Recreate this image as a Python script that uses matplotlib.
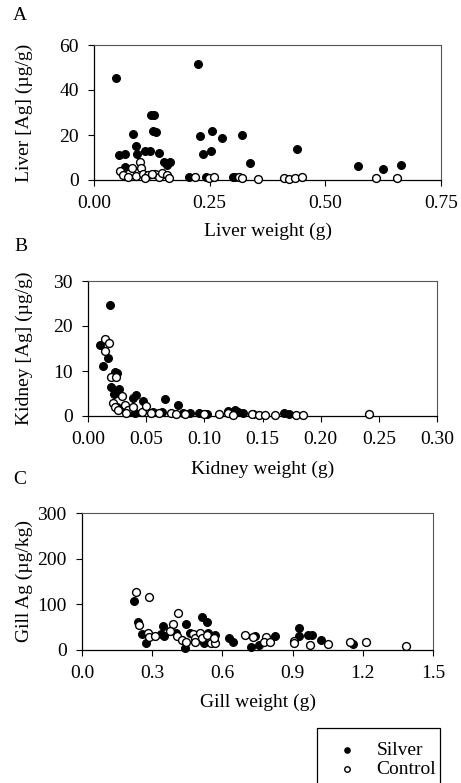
import matplotlib
matplotlib.use("Agg")
import matplotlib.pyplot as plt
from matplotlib.patches import Rectangle

plt.rcParams['font.family'] = ['Liberation Serif', 'DejaVu Serif']

# ---------------- Data ----------------
# Panel A: liver
liver_silver_x = [0.048, 0.225, 0.054, 0.067, 0.084, 0.090, 0.094, 0.110, 0.120, 0.124, 0.130,
                  0.128, 0.134, 0.141, 0.152, 0.164, 0.158, 0.067, 0.229, 0.256, 0.277, 0.319,
                  0.236, 0.252, 0.337, 0.439, 0.571, 0.625, 0.663, 0.206, 0.243, 0.300, 0.304]
liver_silver_y = [45.5, 51.6, 11.1, 11.6, 20.3, 15.2, 11.6, 13.0, 13.1, 28.8, 28.8,
                  22.0, 21.3, 12.1, 8.1, 8.1, 6.5, 5.6, 19.7, 21.9, 18.8, 20.0,
                  11.6, 12.9, 7.4, 13.8, 6.2, 4.9, 6.8, 1.5, 1.3, 1.5, 1.5]
liver_control_x = [0.056, 0.063, 0.074, 0.082, 0.091, 0.099, 0.102, 0.105, 0.117, 0.132, 0.140,
                   0.146, 0.158, 0.163, 0.110, 0.125, 0.218, 0.249, 0.260, 0.314, 0.320, 0.354,
                   0.411, 0.421, 0.434, 0.450, 0.609, 0.654]
liver_control_y = [4.1, 2.2, 1.5, 5.5, 1.8, 7.9, 5.5, 2.7, 2.2, 2.7, 1.5,
                   3.0, 2.2, 0.8, 1.0, 2.5, 1.5, 1.0, 1.3, 1.3, 1.0, 0.5,
                   1.0, 0.6, 1.0, 1.5, 1.0, 1.0]

# Panel B: kidney
kidney_silver_x = [0.0187, 0.0106, 0.0132, 0.0172, 0.0235, 0.0250, 0.0200, 0.0270, 0.0220,
                   0.0416, 0.0390, 0.0470, 0.0660, 0.0775, 0.0245, 0.0300, 0.0330, 0.0375,
                   0.0400, 0.0560, 0.0640, 0.0820, 0.0876, 0.0950, 0.1020, 0.1206, 0.1260,
                   0.1290, 0.1335, 0.1420, 0.1685, 0.1730]
kidney_silver_y = [24.7, 15.7, 11.1, 12.9, 9.8, 9.5, 6.5, 6.1, 4.9,
                   4.6, 3.9, 3.4, 3.7, 2.5, 1.9, 1.5, 1.2, 1.0,
                   0.6, 1.0, 1.0, 0.7, 0.7, 0.6, 0.4, 1.1, 1.3,
                   0.9, 0.6, 0.4, 0.7, 0.5]
kidney_control_x = [0.0150, 0.0180, 0.0150, 0.0195, 0.0240, 0.0290, 0.0215, 0.0230, 0.0260,
                    0.0316, 0.0340, 0.0388, 0.0324, 0.0460, 0.0500, 0.0545, 0.0610, 0.0710,
                    0.0760, 0.0830, 0.0996, 0.1130, 0.1206, 0.1250, 0.1410, 0.1470, 0.1520,
                    0.1610, 0.1790, 0.1850, 0.2415]
kidney_control_y = [17.1, 16.3, 14.5, 8.7, 8.7, 4.4, 2.8, 2.1, 1.3,
                    2.4, 1.3, 2.1, 0.7, 1.0, 2.3, 0.6, 0.6, 0.6,
                    0.4, 0.4, 0.4, 0.4, 0.7, 0.2, 0.4, 0.2, 0.2,
                    0.2, 0.2, 0.2, 0.4]

# Panel C: gill
gill_silver_x = [0.224, 0.239, 0.256, 0.275, 0.345, 0.338, 0.349, 0.402, 0.442, 0.446, 0.463,
                 0.513, 0.534, 0.537, 0.570, 0.520, 0.498, 0.630, 0.644, 0.722, 0.741, 0.758,
                 0.823, 0.926, 0.926, 0.964, 0.983, 1.021, 1.158]
gill_silver_y = [108, 62, 35, 15, 52, 35, 30, 37, 4, 57, 37,
                 72, 62, 37, 33, 15, 30, 26, 17, 6, 30, 10,
                 30, 48, 30, 32, 32, 21, 14]
gill_control_x = [0.232, 0.285, 0.242, 0.282, 0.285, 0.313, 0.387, 0.377, 0.410, 0.406, 0.427,
                  0.444, 0.474, 0.484, 0.506, 0.513, 0.484, 0.534, 0.551, 0.570, 0.563, 0.698,
                  0.731, 0.786, 0.776, 0.805, 0.905, 0.907, 0.976, 1.051, 1.147, 1.214, 1.385]
gill_control_y = [126, 115, 54, 37, 28, 30, 57, 41, 81, 30, 22,
                  17, 35, 26, 37, 26, 17, 33, 15, 15, 26, 32,
                  28, 28, 17, 17, 19, 15, 12, 14, 17, 17, 9]

panels = [
    dict(letter='A', sx=liver_silver_x, sy=liver_silver_y, cx=liver_control_x, cy=liver_control_y,
         xlim=(0, 0.75), xticks=[0.0, 0.25, 0.5, 0.75], xfmt='{:.2f}',
         ylim=(0, 60), yticks=[0, 20, 40, 60],
         xlabel='Liver weight (g)', ylabel='Liver [Ag] (µg/g)',
         box=(94, 45, 441, 180), letter_xy=(20, 15), xlab_y=231, ylab_x=24),
    dict(letter='B', sx=kidney_silver_x, sy=kidney_silver_y, cx=kidney_control_x, cy=kidney_control_y,
         xlim=(0, 0.30), xticks=[0.0, 0.05, 0.10, 0.15, 0.20, 0.25, 0.30], xfmt='{:.2f}',
         ylim=(0, 30), yticks=[0, 10, 20, 30],
         xlabel='Kidney weight (g)', ylabel='Kidney [Ag] (µg/g)',
         box=(88, 281, 437, 416), letter_xy=(21, 247), xlab_y=469, ylab_x=24),
    dict(letter='C', sx=gill_silver_x, sy=gill_silver_y, cx=gill_control_x, cy=gill_control_y,
         xlim=(0, 1.5), xticks=[0.0, 0.3, 0.6, 0.9, 1.2, 1.5], xfmt='{:.1f}',
         ylim=(0, 300), yticks=[0, 100, 200, 300],
         xlabel='Gill weight (g)', ylabel='Gill Ag (µg/kg)',
         box=(82, 513, 433, 650), letter_xy=(20, 479), xlab_y=702, ylab_x=24),
]

W, H = 461, 783
fig = plt.figure(figsize=(W / 100, H / 100), dpi=100)

def fx(x):
    return x / W

def fy(y):
    return 1 - y / H

FS = 14
handles = None
for p in panels:
    l, t, r, b = p['box']
    ax = fig.add_axes([fx(l), fy(b), (r - l) / W, (b - t) / H])
    hs = ax.scatter(p['sx'], p['sy'], s=32, facecolor='black', edgecolor='black',
                    linewidths=0.8, zorder=3, clip_on=False, label='Silver')
    hc = ax.scatter(p['cx'], p['cy'], s=32, facecolor='white', edgecolor='black',
                    linewidths=1.0, zorder=4, clip_on=False, label='Control')
    handles = [hs, hc]
    ax.set_xlim(*p['xlim'])
    ax.set_ylim(*p['ylim'])
    ax.set_xticks(p['xticks'])
    ax.set_xticklabels([p['xfmt'].format(v) for v in p['xticks']])
    ax.set_yticks(p['yticks'])
    ax.tick_params(axis='x', direction='out', length=4, width=0.8, labelsize=FS, pad=7)
    ax.tick_params(axis='y', direction='out', length=4, width=0.8, labelsize=FS, pad=7)
    for side in ['left', 'bottom']:
        ax.spines[side].set_linewidth(0.9)
        ax.spines[side].set_color('black')
    for side in ['top', 'right']:
        ax.spines[side].set_linewidth(0.8)
        ax.spines[side].set_color('#555555')
    fig.text(fx(p['letter_xy'][0]), fy(p['letter_xy'][1]), p['letter'], fontsize=FS,
             ha='center', va='center')
    fig.text(fx((l + r) / 2), fy(p['xlab_y']), p['xlabel'], fontsize=FS, ha='center', va='center')
    fig.text(fx(p['ylab_x']), fy((t + b) / 2), p['ylabel'], fontsize=FS, ha='center', va='center',
             rotation=90)

# Legend box (extends past the bottom edge as in the reference)
fig.add_artist(Rectangle((fx(317), fy(790)), (440 - 317) / W, (790 - 728) / H,
                         transform=fig.transFigure, facecolor='white', edgecolor='black',
                         linewidth=0.9))
leg = fig.legend(handles=handles, labels=['Silver', 'Control'], loc='upper left',
                 bbox_to_anchor=(fx(322), fy(728)), frameon=False, fontsize=FS,
                 markerscale=0.7, handletextpad=0.9, labelspacing=0.05, borderpad=0.2,
                 handlelength=1.2)

fig.savefig('out.png', dpi=100)
